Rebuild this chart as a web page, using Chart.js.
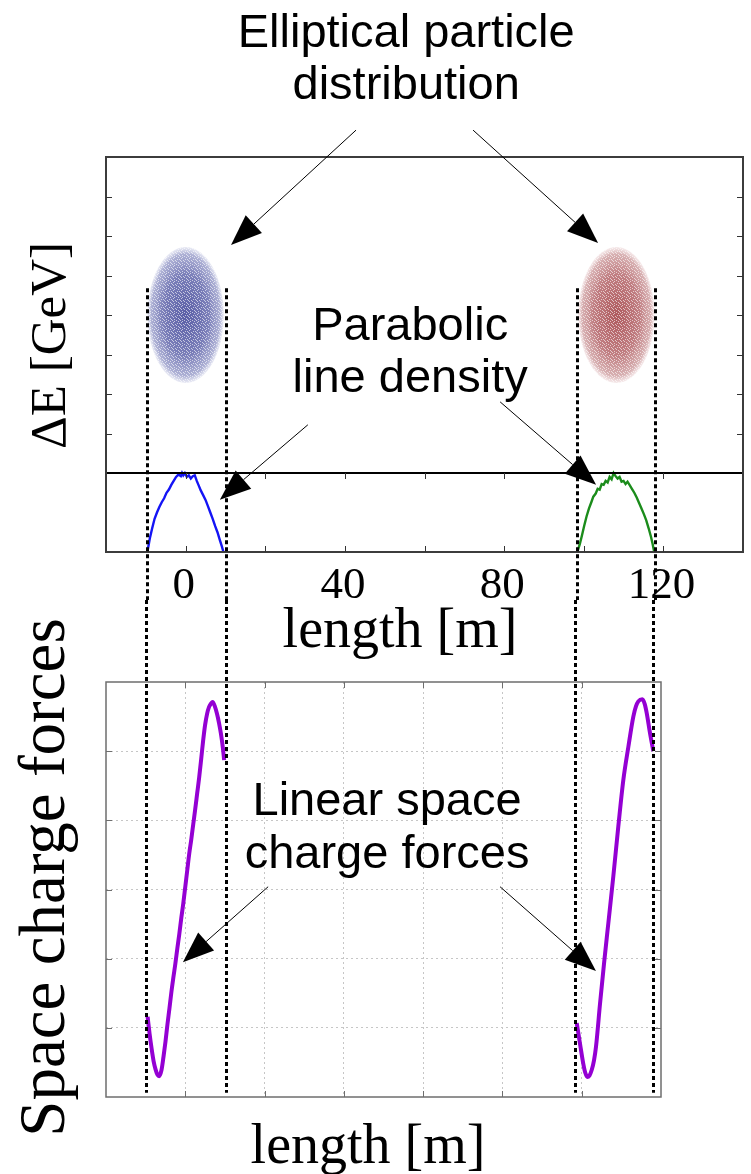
<!DOCTYPE html>
<html>
<head>
<meta charset="utf-8">
<script src="https://cdn.jsdelivr.net/npm/chart.js@4.4.1/dist/chart.umd.min.js"></script>
<style>
  html, body { margin: 0; padding: 0; background: #fff; }
  #wrap { position: relative; width: 751px; height: 1174px; overflow: hidden; }
  canvas { position: absolute; left: 0; }
  #topChart { top: 0; }
  #bottomChart { top: 600px; }
</style>
</head>
<body>
<div id="wrap">
  <canvas id="topChart" width="751" height="668"></canvas>
  <canvas id="bottomChart" width="751" height="574"></canvas>
</div>
<script>
// two bunches in the ring: centre [m], half length [m], half energy spread
const bunchCenters = [0, 108.2];
const bunchHalfLength = 9.6;
const bunchHalfEnergy = 1.72;
// bunch edges, carried down through both plots as dashed guides
const bunchEdges = [-9.8, 10.2, 98.2, 118.0];

const lengthTicks = [0, 20, 40, 60, 80, 100, 120];
const lengthLabelValues = [0, 40, 80, 120];
const lengthLabels = ['0', '40', '80', '120'];
const energyTicks = [-3, -2, -1, 0, 1, 2, 3];
const forceTicks = [-2, -1, 0, 1, 2];

// line density of bunch 1 (blue) and bunch 2 (green), normalised to peak
const densityX1 = [-9.6, -9.0, -8.4, -7.8, -7.2, -6.6, -6.0, -5.4, -4.8, -4.2, -3.6, -3.0, -2.4, -1.8, -1.2, -0.9, -0.6, -0.2, 0.3, 0.8, 1.3, 1.8, 2.3, 2.8, 3.3, 3.8, 4.4, 5.0, 5.6, 6.2, 6.8, 7.4, 8.0, 8.6, 9.1, 9.5];
const densityY1 = [0, 0.17, 0.3, 0.42, 0.5, 0.57, 0.63, 0.68, 0.75, 0.79, 0.85, 0.9, 0.95, 0.98, 0.96, 1.0, 0.97, 1.0, 0.95, 0.97, 0.93, 0.96, 0.97, 0.9, 0.84, 0.78, 0.72, 0.66, 0.58, 0.5, 0.42, 0.33, 0.25, 0.15, 0.07, 0];
const densityX2 = [98.4, 99.0, 99.5, 100.1, 100.7, 101.3, 101.9, 102.4, 103.0, 103.5, 104.0, 104.5, 105.0, 105.5, 106.0, 106.5, 107.0, 107.5, 108.0, 108.5, 109.0, 109.5, 110.0, 110.5, 111.0, 111.5, 112.1, 112.7, 113.3, 113.9, 114.5, 115.1, 115.7, 116.3, 116.9, 117.3, 117.7];
const densityY2 = [0, 0.1, 0.2, 0.33, 0.45, 0.55, 0.63, 0.70, 0.74, 0.8, 0.79, 0.86, 0.85, 0.9, 0.88, 0.95, 0.92, 1.0, 0.96, 0.93, 0.95, 0.89, 0.9, 0.86, 0.89, 0.85, 0.8, 0.75, 0.69, 0.62, 0.55, 0.48, 0.4, 0.3, 0.19, 0.1, 0];

// longitudinal space charge force across each bunch
const forceX1 = [-9.5, -9.0, -8.5, -8.0, -7.5, -7.0, -6.6, -6.0, -5.5, -5.0, -4.5, -4.0, -3.5, -3.0, -2.5, -2.0, -1.5, -1.0, -0.5, 0, 0.5, 1.0, 1.5, 2.0, 2.5, 3.0, 3.5, 4.0, 4.5, 5.0, 5.5, 6.0, 6.5, 6.9, 7.5, 8.0, 8.5, 9.0, 9.5, 9.8];
const forceY1 = [-1.84, -2.09, -2.30, -2.48, -2.60, -2.68, -2.70, -2.61, -2.42, -2.20, -1.95, -1.72, -1.48, -1.27, -1.07, -0.85, -0.64, -0.41, -0.20, 0.04, 0.28, 0.52, 0.72, 0.94, 1.16, 1.39, 1.62, 1.88, 2.15, 2.38, 2.54, 2.64, 2.69, 2.71, 2.64, 2.54, 2.41, 2.25, 2.04, 1.87];
const forceX2 = [98.74, 99.57, 100.40, 100.9, 101.41, 101.95, 102.52, 103.1, 103.61, 104.62, 105.63, 106.71, 107.97, 109.23, 110.49, 111.76, 113.02, 113.7, 114.28, 115.29, 115.9, 116.40, 117.23, 118.06];
const forceY2 = [-1.93, -2.23, -2.52, -2.65, -2.71, -2.69, -2.61, -2.47, -2.27, -1.65, -1.07, -0.49, 0.19, 0.91, 1.58, 2.06, 2.50, 2.65, 2.72, 2.75, 2.68, 2.55, 2.26, 2.00];

// callouts, in data coordinates of each plot
const topNotes = [
  { text: 'Elliptical particle', x: 55.4, y: 6.78 },
  { text: 'distribution', x: 55.4, y: 5.47 },
  { text: 'Parabolic', x: 56.4, y: -0.63 },
  { text: 'line density', x: 56.4, y: -1.95 }
];
const topArrows = [
  [42.8, 4.68, 11.4, 1.77],
  [72.2, 4.68, 103.6, 1.82],
  [30.7, -2.78, 8.6, -4.68],
  [79.0, -2.20, 103.1, -4.30]
];
const bottomNotes = [
  { text: 'Linear space', x: 50.9, y: 1.08 },
  { text: 'charge forces', x: 50.9, y: 0.31 }
];
const bottomArrows = [
  [20.9, 0.04, -0.6, -1.05],
  [79.4, 0.04, 103.6, -1.18]
];

const SANS = '"Liberation Sans", Arial, sans-serif';
const SERIF = '"Liberation Serif", "Times New Roman", serif';
// the lower canvas starts here; guides from the upper plot stop at this line
const SPLIT_Y = 600;

function pts(xs, ys) {
  return xs.map((x, i) => ({ x: x, y: ys[i] }));
}

function seg(ctx, x0, y0, x1, y1) {
  ctx.beginPath();
  ctx.moveTo(x0, y0);
  ctx.lineTo(x1, y1);
  ctx.stroke();
}

function arrow(ctx, x0, y0, x1, y1) {
  const ang = Math.atan2(y1 - y0, x1 - x0);
  const len = 31, half = 12;
  const bx = x1 - len * Math.cos(ang), by = y1 - len * Math.sin(ang);
  ctx.strokeStyle = '#000';
  ctx.fillStyle = '#000';
  ctx.lineWidth = 1;
  seg(ctx, x0, y0, bx, by);
  ctx.beginPath();
  ctx.moveTo(x1, y1);
  ctx.lineTo(bx - half * Math.sin(ang), by + half * Math.cos(ang));
  ctx.lineTo(bx + half * Math.sin(ang), by - half * Math.cos(ang));
  ctx.closePath();
  ctx.fill();
}

function drawNotes(ctx, notes, xs, ys) {
  ctx.fillStyle = '#000';
  ctx.font = '47px ' + SANS;
  ctx.textAlign = 'center';
  ctx.textBaseline = 'alphabetic';
  notes.forEach(n => ctx.fillText(n.text, xs.getPixelForValue(n.x), ys.getPixelForValue(n.y)));
}

function drawEdges(ctx, xs, y0, y1) {
  ctx.save();
  ctx.strokeStyle = '#000';
  ctx.lineWidth = 3;
  ctx.setLineDash([4, 3]);
  bunchEdges.forEach(v => {
    const px = Math.round(xs.getPixelForValue(v)) + 0.5;
    seg(ctx, px, y0, px, y1);
  });
  ctx.restore();
}

function vText(ctx, text, x, y, font) {
  ctx.save();
  ctx.translate(x, y);
  ctx.rotate(-Math.PI / 2);
  ctx.font = font;
  ctx.fillStyle = '#000';
  ctx.textAlign = 'center';
  ctx.textBaseline = 'alphabetic';
  ctx.fillText(text, 0, 0);
  ctx.restore();
}

// small fixed speckle so the bunches read as particle clouds
const speckleMask = [
  '10001000',
  '00100010',
  '00000100',
  '01010000',
  '00001001',
  '10000100',
  '00100000',
  '00010010'
];
function specklePattern(ctx) {
  const c = document.createElement('canvas');
  c.width = 8; c.height = 8;
  const p = c.getContext('2d');
  p.fillStyle = 'rgba(255,255,255,0.6)';
  speckleMask.forEach((row, j) => {
    for (let i = 0; i < row.length; i++) if (row[i] === '1') p.fillRect(i, j, 1, 1);
  });
  return ctx.createPattern(c, 'repeat');
}

const bunchColors = [
  ['rgba(60,65,150,0.85)', 'rgba(85,90,165,0.78)', 'rgba(120,125,185,0.6)', 'rgba(170,175,215,0.25)'],
  ['rgba(160,60,65,0.85)', 'rgba(175,90,95,0.78)', 'rgba(190,125,128,0.6)', 'rgba(220,175,178,0.25)']
];

const phaseSpace = {
  id: 'phaseSpace',
  beforeDatasetsDraw(chart) {
    const { ctx, scales: { x, yPhase } } = chart;
    const speckle = specklePattern(ctx);
    bunchCenters.forEach((c, i) => {
      const cx = x.getPixelForValue(c);
      const cy = yPhase.getPixelForValue(0);
      const rx = x.getPixelForValue(c + bunchHalfLength) - cx;
      const ry = cy - yPhase.getPixelForValue(bunchHalfEnergy);
      ctx.save();
      ctx.translate(cx, cy);
      ctx.scale(rx, ry);
      const g = ctx.createRadialGradient(0, 0, 0, 0, 0, 1);
      g.addColorStop(0, bunchColors[i][0]);
      g.addColorStop(0.6, bunchColors[i][1]);
      g.addColorStop(0.9, bunchColors[i][2]);
      g.addColorStop(1, bunchColors[i][3]);
      ctx.beginPath();
      ctx.arc(0, 0, 1, 0, Math.PI * 2);
      ctx.fillStyle = g;
      ctx.fill();
      ctx.restore();
      ctx.save();
      ctx.beginPath();
      ctx.ellipse(cx, cy, rx, ry, 0, 0, Math.PI * 2);
      ctx.clip();
      ctx.fillStyle = speckle;
      ctx.fillRect(cx - rx, cy - ry, 2 * rx, 2 * ry);
      ctx.restore();
    });
  }
};

const topFrame = {
  id: 'topFrame',
  afterDatasetsDraw(chart) {
    const { ctx, chartArea: a, scales: { x, yPhase } } = chart;
    ctx.save();
    const ySep = yPhase.getPixelForValue(-4);
    ctx.strokeStyle = '#000';
    ctx.lineWidth = 2;
    seg(ctx, a.left, ySep, a.right, ySep);
    ctx.strokeStyle = '#3c3c3c';
    ctx.strokeRect(a.left, a.top, a.right - a.left, a.bottom - a.top);

    ctx.lineWidth = 1;
    ctx.strokeStyle = '#333';
    energyTicks.forEach(v => {
      const py = Math.round(yPhase.getPixelForValue(v)) + 0.5;
      seg(ctx, a.left, py, a.left + 6, py);
      seg(ctx, a.right - 6, py, a.right, py);
    });
    lengthTicks.forEach(v => {
      const px = Math.round(x.getPixelForValue(v)) + 0.5;
      seg(ctx, px, a.bottom, px, a.bottom - 6);
      seg(ctx, px, ySep, px, ySep + 6);
    });

    ctx.fillStyle = '#000';
    ctx.font = '45px ' + SERIF;
    ctx.textAlign = 'center';
    ctx.textBaseline = 'alphabetic';
    lengthLabelValues.forEach((v, i) => ctx.fillText(lengthLabels[i], x.getPixelForValue(v) - 2, a.bottom + 46));
    ctx.font = '56px ' + SERIF;
    ctx.fillText('length [m]', a.left + 294, a.bottom + 95);
    vText(ctx, 'ΔE [GeV]', 65, (a.top + a.bottom) / 2 - 9, '51px ' + SERIF);

    drawNotes(ctx, topNotes, x, yPhase);
    topArrows.forEach(r => arrow(ctx, x.getPixelForValue(r[0]), yPhase.getPixelForValue(r[1]),
      x.getPixelForValue(r[2]), yPhase.getPixelForValue(r[3])));
    drawEdges(ctx, x, yPhase.getPixelForValue(0.68), SPLIT_Y);
    ctx.restore();
  }
};

const bottomFrame = {
  id: 'bottomFrame',
  afterDatasetsDraw(chart) {
    const { ctx, chartArea: a, scales: { x, y } } = chart;
    ctx.save();
    ctx.strokeStyle = '#6e6e6e';
    ctx.lineWidth = 1.5;
    ctx.strokeRect(a.left, a.top, a.right - a.left, a.bottom - a.top);
    ctx.lineWidth = 1;
    forceTicks.forEach(v => {
      const py = Math.round(y.getPixelForValue(v)) + 0.5;
      seg(ctx, a.left, py, a.left + 6, py);
      seg(ctx, a.right - 6, py, a.right, py);
    });
    lengthTicks.forEach(v => {
      if (v >= x.max) return;
      const px = Math.round(x.getPixelForValue(v)) + 0.5;
      seg(ctx, px, a.bottom, px, a.bottom - 6);
      seg(ctx, px, a.top, px, a.top + 6);
    });

    ctx.fillStyle = '#000';
    ctx.font = '56px ' + SERIF;
    ctx.textAlign = 'center';
    ctx.textBaseline = 'alphabetic';
    ctx.fillText('length [m]', a.left + 262, a.bottom + 66);
    vText(ctx, 'Space charge forces', 64, (a.top + a.bottom) / 2 - 12, '65px ' + SERIF);

    drawNotes(ctx, bottomNotes, x, y);
    bottomArrows.forEach(r => arrow(ctx, x.getPixelForValue(r[0]), y.getPixelForValue(r[1]),
      x.getPixelForValue(r[2]), y.getPixelForValue(r[3])));
    drawEdges(ctx, x, 0, y.getPixelForValue(-2.94));
    ctx.restore();
  }
};

new Chart(document.getElementById('topChart'), {
  type: 'line',
  data: {
    datasets: [
      { label: 'Bunch 1 line density', data: pts(densityX1, densityY1), yAxisID: 'yDens',
        borderColor: '#1414f5', borderWidth: 2.4, pointRadius: 0, tension: 0 },
      { label: 'Bunch 2 line density', data: pts(densityX2, densityY2), yAxisID: 'yDens',
        borderColor: '#1b8c1b', borderWidth: 2.4, pointRadius: 0, tension: 0 }
    ]
  },
  options: {
    responsive: false,
    animation: false,
    layout: { padding: { left: 106, right: 8, top: 157, bottom: 116 } },
    plugins: { legend: { display: false }, tooltip: { enabled: false } },
    scales: {
      x: { type: 'linear', display: false, min: -20, max: 140 },
      // phase space fills the upper part, the density strip sits below ΔE = -4
      yPhase: { type: 'linear', display: false, min: -6, max: 4 },
      yDens: { type: 'linear', display: false, min: 0, max: 5 }
    }
  },
  plugins: [phaseSpace, topFrame]
});

const hideEdge = (lo, hi) => ctx => (ctx.tick && (ctx.tick.value === lo || ctx.tick.value === hi)) ? 'rgba(0,0,0,0)' : '#c6c6c6';

new Chart(document.getElementById('bottomChart'), {
  type: 'line',
  data: {
    datasets: [
      { label: 'Bunch 1 force', data: pts(forceX1, forceY1),
        borderColor: '#9400d3', borderWidth: 4, pointRadius: 0, cubicInterpolationMode: 'monotone' },
      { label: 'Bunch 2 force', data: pts(forceX2, forceY2),
        borderColor: '#9400d3', borderWidth: 4, pointRadius: 0, cubicInterpolationMode: 'monotone' }
    ]
  },
  options: {
    responsive: false,
    animation: false,
    layout: { padding: { left: 106, right: 90, top: 82, bottom: 77 } },
    plugins: { legend: { display: false }, tooltip: { enabled: false } },
    scales: {
      x: {
        type: 'linear', min: -20, max: 120,
        ticks: { display: false, stepSize: 20 },
        grid: { color: hideEdge(-20, 120), lineWidth: 1, drawTicks: false },
        border: { display: false, dash: [2, 3] },
        afterFit: s => { s.height = 0; }
      },
      y: {
        type: 'linear', min: -3, max: 3,
        ticks: { display: false, stepSize: 1 },
        grid: { color: hideEdge(-3, 3), lineWidth: 1, drawTicks: false },
        border: { display: false, dash: [2, 3] },
        afterFit: s => { s.width = 0; }
      }
    }
  },
  plugins: [bottomFrame]
});
</script>
</body>
</html>
